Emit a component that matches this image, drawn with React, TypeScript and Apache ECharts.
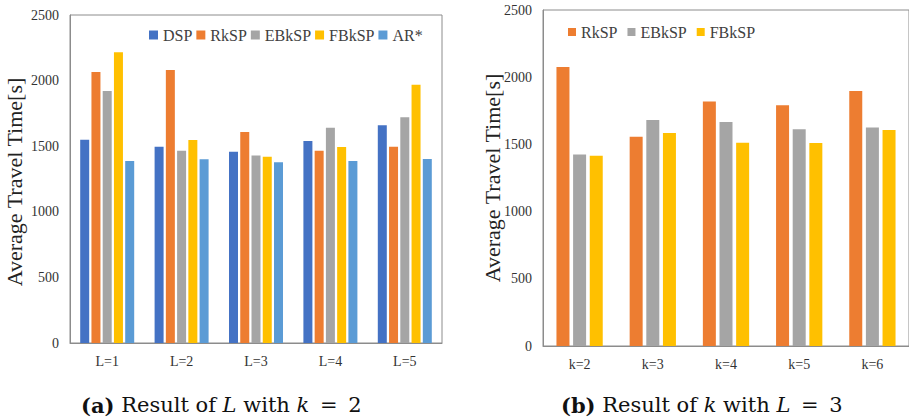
import React, { useEffect, useRef } from "react";
import * as echarts from "echarts";

const leftCategories = ["L=1", "L=2", "L=3", "L=4", "L=5"];
const rightCategories = ["k=2", "k=3", "k=4", "k=5", "k=6"];
const yTicks = { min: 0, max: 2500, interval: 500 };

const leftDSP = [1550, 1496, 1458, 1540, 1659];
const leftRkSP = [2065, 2081, 1608, 1466, 1496];
const leftEBkSP = [1921, 1466, 1430, 1641, 1720];
const leftFBkSP = [2216, 1547, 1420, 1494, 1969];
const leftARstar = [1387, 1400, 1377, 1387, 1402];

const rightRkSP = [2075, 1556, 1819, 1792, 1898];
const rightEBkSP = [1424, 1682, 1667, 1613, 1625];
const rightFBkSP = [1416, 1585, 1513, 1511, 1608];

const COLORS: Record<string, string> = {
  DSP: "#4472C4",
  RkSP: "#ED7D31",
  EBkSP: "#A5A5A5",
  FBkSP: "#FFC000",
  "AR*": "#5B9BD5",
};

const SERIF = "'Liberation Serif', 'Times New Roman', serif";
const CAPTION_FONT = "'DejaVu Serif', serif";
const AXIS_COLOR = "#8c8c8c";

export default function App() {
  const ref = useRef<HTMLDivElement>(null);
  useEffect(() => {
    if (!ref.current) return;
    const chart = echarts.init(ref.current, undefined, { renderer: "svg" });

    const yAxisBase = (gridIndex: number) => ({
      type: "value",
      gridIndex,
      min: yTicks.min,
      max: yTicks.max,
      interval: yTicks.interval,
      axisLine: { show: true, lineStyle: { color: AXIS_COLOR } },
      axisTick: { show: false },
      splitLine: { show: false },
      axisLabel: {
        fontFamily: SERIF,
        fontSize: 14,
        color: "#333",
        margin: 11,
        formatter: (v: number) => String(v),
      },
    });
    const xAxisBase = (gridIndex: number, data: string[]) => ({
      type: "category",
      gridIndex,
      data,
      axisLine: { show: true, lineStyle: { color: AXIS_COLOR } },
      axisTick: { show: false },
      axisLabel: { fontFamily: SERIF, fontSize: 14, color: "#333", margin: 11 },
    });

    const leftSeries = [
      ["DSP", leftDSP],
      ["RkSP", leftRkSP],
      ["EBkSP", leftEBkSP],
      ["FBkSP", leftFBkSP],
      ["AR*", leftARstar],
    ].map(([name, data]) => ({
      type: "bar",
      name: name as string,
      xAxisIndex: 0,
      yAxisIndex: 0,
      data: data as number[],
      barWidth: 9,
      barGap: "25%",
      itemStyle: { color: COLORS[name as string] },
    }));

    const rightSeries = [
      ["RkSP", rightRkSP],
      ["EBkSP", rightEBkSP],
      ["FBkSP", rightFBkSP],
    ].map(([name, data]) => ({
      type: "bar",
      name: name as string,
      xAxisIndex: 1,
      yAxisIndex: 1,
      data: data as number[],
      barWidth: 13,
      barGap: "28%",
      itemStyle: { color: COLORS[name as string] },
    }));

    const legendText = { fontFamily: SERIF, fontSize: 16, color: "#404040" };

    const richCaption = {
      b: { font: "bold 21px " + CAPTION_FONT, fill: "#111" },
      i: { font: "italic 21px " + CAPTION_FONT, fill: "#111" },
      eq: { font: "21px " + CAPTION_FONT, fill: "#111", padding: [0, 4] },
    };

    chart.setOption({
      animation: false,
      grid: [
        { left: 70, top: 15, width: 372, height: 328, show: true, borderColor: AXIS_COLOR, borderWidth: 1 },
        { left: 543, top: 10, width: 368, height: 336, show: true, borderColor: AXIS_COLOR, borderWidth: 1 },
      ],
      legend: [
        {
          data: ["DSP", "RkSP", "EBkSP", "FBkSP", "AR*"],
          left: 144,
          top: 22,
          icon: "rect",
          itemWidth: 9,
          itemHeight: 9,
          itemGap: 4,
          textStyle: legendText,
          selectedMode: false,
        },
        {
          data: [{ name: "RkSP" }, { name: "EBkSP" }, { name: "FBkSP" }],
          left: 563,
          top: 19,
          icon: "rect",
          itemWidth: 8,
          itemHeight: 8,
          itemGap: 10,
          textStyle: legendText,
          selectedMode: false,
        },
      ],
      xAxis: [xAxisBase(0, leftCategories), xAxisBase(1, rightCategories)],
      yAxis: [yAxisBase(0), yAxisBase(1)],
      series: [...leftSeries, ...rightSeries],
      graphic: [
        {
          type: "text",
          x: 14,
          y: 182,
          rotation: Math.PI / 2,
          style: {
            text: "Average Travel Time[s]",
            font: "22px " + SERIF,
            fill: "#222",
            textAlign: "center",
            textVerticalAlign: "middle",
          },
        },
        {
          type: "text",
          x: 492,
          y: 178,
          rotation: Math.PI / 2,
          style: {
            text: "Average Travel Time[s]",
            font: "22px " + SERIF,
            fill: "#222",
            textAlign: "center",
            textVerticalAlign: "middle",
          },
        },
        {
          type: "text",
          x: 81,
          y: 405,
          style: {
            text: "{b|(a)} Result of {i|L} with {i|k}{eq| = }2",
            font: "21px " + CAPTION_FONT,
            fill: "#111",
            textVerticalAlign: "middle",
            rich: richCaption,
          },
        },
        {
          type: "text",
          x: 561,
          y: 405,
          style: {
            text: "{b|(b)} Result of {i|k} with {i|L}{eq| = }3",
            font: "21px " + CAPTION_FONT,
            fill: "#111",
            textVerticalAlign: "middle",
            rich: richCaption,
          },
        },
      ],
    });
    return () => chart.dispose();
  }, []);
  return (
    <div
      ref={ref}
      style={{ position: "fixed", left: 0, top: 0, width: 909, height: 420, background: "#fff" }}
    />
  );
}
